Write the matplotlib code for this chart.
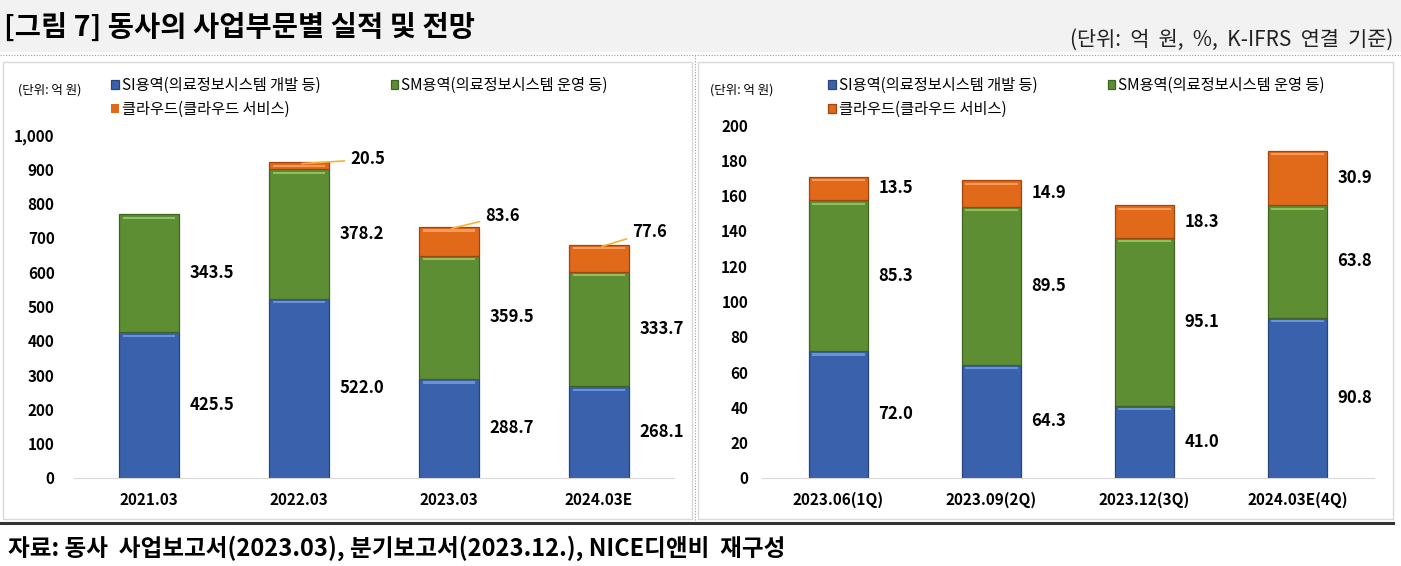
import matplotlib
matplotlib.use("Agg")
import matplotlib.pyplot as plt
from matplotlib.patches import Rectangle
from matplotlib.lines import Line2D

plt.rcParams['font.family'] = ['Noto Sans CJK KR', 'DejaVu Sans']

# ---- data ----
years = ["2021.03", "2022.03", "2023.03", "2024.03E"]
si_year = [425.5, 522.0, 288.7, 268.1]
sm_year = [343.5, 378.2, 359.5, 333.7]
cloud_year = [0.0, 20.5, 83.6, 77.6]

quarters = ["2023.06(1Q)", "2023.09(2Q)", "2023.12(3Q)", "2024.03E(4Q)"]
si_q = [72.0, 64.3, 41.0, 90.8]
sm_q = [85.3, 89.5, 95.1, 63.8]
cloud_q = [13.5, 14.9, 18.3, 30.9]

names = ["SI용역(의료정보시스템 개발 등)", "SM용역(의료정보시스템 운영 등)", "클라우드(클라우드 서비스)"]

BLUE, GREEN, ORANGE = "#3A62AC", "#5E8E33", "#E0691A"
EDGE = {"#3A62AC": "#27457C", "#5E8E33": "#3F6221", "#E0691A": "#9E4510"}
HIGH = {"#3A62AC": "#6A92D8", "#5E8E33": "#8CC15E", "#E0691A": "#F49A5A"}

W, H = 1401, 566
fig = plt.figure(figsize=(W / 100, H / 100), dpi=100)
fig.patch.set_facecolor("white")


def px(x0, y0, x1, y1):
    # pixel box (top-left origin) -> figure fraction rect
    return [x0 / W, 1 - y1 / H, (x1 - x0) / W, (y1 - y0) / H]


# title band
fig.patches.append(Rectangle((0, 1 - 52 / H), 1, 52 / H, transform=fig.transFigure,
                             facecolor="#F2F2F2", edgecolor="none", zorder=0))
fig.text(4 / W, 1 - 27 / H, "[그림 7] 동사의 사업부문별 실적 및 전망", fontsize=20.5,
         fontweight="bold", va="center", ha="left")
fig.text(1393 / W, 1 - 40 / H, "(단위:  억  원,  %,  K-IFRS  연결  기준)", fontsize=15,
         va="center", ha="right", color="#222222")

# frames
fig.lines.append(Line2D([0, 1], [1 - 55 / H] * 2, transform=fig.transFigure,
                        color="#9A9A9A", lw=0.8, ls=(0, (1, 1.5))))
fig.lines.append(Line2D([695 / W] * 2, [1 - 55 / H, 1 - 523 / H], transform=fig.transFigure,
                        color="#9A9A9A", lw=0.8, ls=(0, (1, 1.5))))
for x0, x1 in [(3, 692), (698, 1393)]:
    fig.patches.append(Rectangle((x0 / W, 1 - 519 / H), (x1 - x0) / W, (519 - 62) / H,
                                 transform=fig.transFigure, facecolor="none",
                                 edgecolor="#D9D9D9", lw=1.0))
fig.lines.append(Line2D([0, 1393 / W], [1 - 523 / H] * 2, transform=fig.transFigure,
                        color="#333333", lw=2.2))
fig.text(8 / W, 1 - 548 / H,
         "자료: 동사  사업보고서(2023.03), 분기보고서(2023.12.), NICE디앤비  재구성",
         fontsize=17, fontweight="bold", va="center", ha="left")


def stacked(ax, cats, series, ymax, step, width, tickpad, hl):
    xs = list(range(len(cats)))
    bottoms = [0.0] * len(cats)
    conts = []
    for vals, col in series:
        c = ax.bar(xs, vals, width, bottom=bottoms, color=col,
                   edgecolor=[EDGE[col] if v > 0 else "none" for v in vals],
                   linewidth=0.9, zorder=3)
        # bevel highlight near top of each segment
        tops = [b + v for b, v in zip(bottoms, vals)]
        ax.bar(xs, [hl if v > 0 else 0 for v in vals], width * 0.88,
               bottom=[t - hl * 2.2 if v > 0 else 0 for t, v in zip(tops, vals)],
               color=HIGH[col], linewidth=0, zorder=4)
        conts.append(c)
        bottoms = tops
    ax.set_xlim(-0.5, len(cats) - 0.5)
    ax.set_ylim(0, ymax)
    ticks = list(range(0, ymax + 1, step))
    ax.set_yticks(ticks)
    ax.set_yticklabels([f"{t:,}" for t in ticks], fontsize=11, fontweight="bold")
    ax.set_xticks(xs)
    ax.set_xticklabels(cats, fontsize=11, fontweight="bold")
    ax.tick_params(axis="both", length=0)
    ax.tick_params(axis="y", pad=tickpad)
    ax.tick_params(axis="x", pad=10)
    for s in ["top", "right", "left"]:
        ax.spines[s].set_visible(False)
    ax.spines["bottom"].set_color("#D9D9D9")
    ax.spines["bottom"].set_zorder(5)
    ax.set_facecolor("none")
    return conts


def add_legend(conts, x0, y0):
    handles = [conts[0], conts[2], conts[1]]
    labels = [names[0], names[2], names[1]]
    fig.legend(handles, labels, loc="upper left", bbox_to_anchor=(x0 / W, 1 - y0 / H),
               ncol=2, frameon=False, fontsize=11, handlelength=0.5, handleheight=0.5,
               handletextpad=0.2, columnspacing=4.6, labelspacing=0.45, borderpad=0,
               borderaxespad=0)


# ---- left chart: annual ----
axL = fig.add_axes(px(74, 135, 674, 478))
cL = stacked(axL, years, [(si_year, BLUE), (sm_year, GREEN), (cloud_year, ORANGE)],
             1000, 100, 0.4, 14, 6)
fig.text(18 / W, 1 - 90 / H, "(단위: 억 원)", fontsize=9, va="center")
add_legend(cL, 111, 77)

for i in range(len(years)):
    axL.text(i + 0.27, si_year[i] / 2, f"{si_year[i]:.1f}", fontsize=12,
             fontweight="bold", va="center", ha="left")
    axL.text(i + 0.27, si_year[i] + sm_year[i] / 2, f"{sm_year[i]:.1f}", fontsize=12,
             fontweight="bold", va="center", ha="left")
# cloud labels with leader lines (label offsets are layout only)
lead = {1: (0.34, 8), 2: (0.24, 32), 3: (0.22, 38)}
for i, (dx, dy) in lead.items():
    top = si_year[i] + sm_year[i] + cloud_year[i]
    axL.annotate(f"{cloud_year[i]:.1f}", xy=(i + 0.02, top - 4), xytext=(i + dx, top + dy),
                 fontsize=12, fontweight="bold", va="center", ha="left",
                 arrowprops=dict(arrowstyle="-", color="#F5B335", lw=1.2,
                                 shrinkA=2, shrinkB=0), zorder=6)

# ---- right chart: quarterly ----
axR = fig.add_axes(px(762, 125, 1374, 478))
cR = stacked(axR, quarters, [(si_q, BLUE), (sm_q, GREEN), (cloud_q, ORANGE)],
             200, 20, 0.39, 10, 1.2)
fig.text(710 / W, 1 - 90 / H, "(단위: 억 원)", fontsize=9, va="center")
add_legend(cR, 828, 77)

for i in range(len(quarters)):
    base = 0.0
    for vals in (si_q, sm_q, cloud_q):
        axR.text(i + 0.26, base + vals[i] / 2, f"{vals[i]:.1f}", fontsize=12,
                 fontweight="bold", va="center", ha="left")
        base += vals[i]

fig.savefig("out.png", dpi=100)
